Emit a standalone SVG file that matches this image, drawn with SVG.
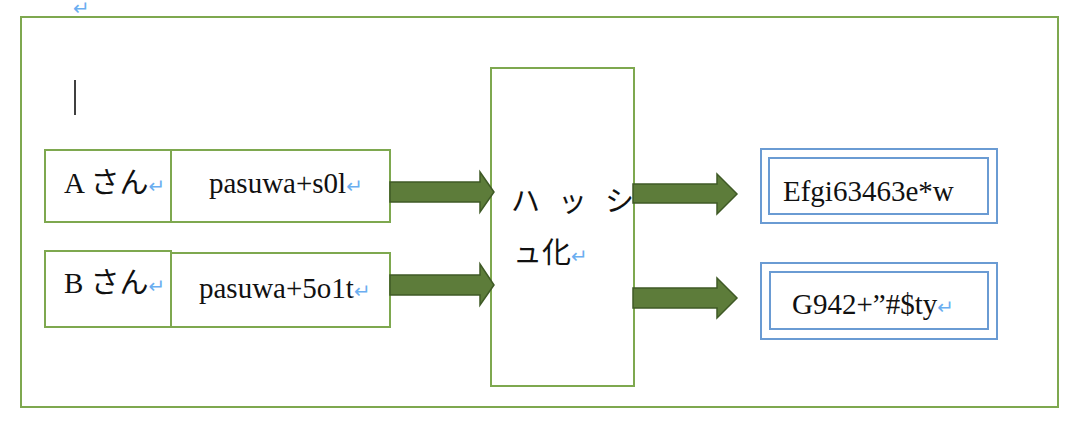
<svg xmlns="http://www.w3.org/2000/svg" width="1080" height="426" viewBox="0 0 1080 426">
<style>
.g{fill:#fff;stroke:#7ea84f;stroke-width:2}
.b{fill:#fff;stroke:#6a9bd3;stroke-width:2}
.t{font-family:"Liberation Serif","Times New Roman","DejaVu Serif","Noto Sans CJK JP",serif;font-size:29px;fill:#111}
.r{fill:#6aaef0;font-family:"DejaVu Sans",sans-serif;font-size:20px}
.a{fill:#5d7c3a;stroke:#3f5a26;stroke-width:1.5}
</style>
<rect width="1080" height="426" fill="#fff"/>
<text x="73" y="15" class="r" font-size="15">↵</text>
<rect x="21" y="17" width="1037" height="390" fill="none" stroke="#7ea84f" stroke-width="2"/>
<line x1="75" y1="80" x2="75" y2="115" stroke="#000" stroke-width="1.5"/>
<g id="nodeA"><rect x="45" y="150" width="126" height="72" class="g"/><text x="64" y="193" class="t">A さん<tspan class="r">↵</tspan></text></g>
<g id="pwA"><rect x="171" y="150" width="219" height="72" class="g"/><text x="209" y="193" class="t">pasuwa+s0l<tspan class="r">↵</tspan></text></g>
<g id="nodeB"><rect x="45" y="251" width="126" height="76" class="g"/><text x="64" y="293" class="t">B さん<tspan class="r">↵</tspan></text></g>
<g id="pwB"><rect x="171" y="253" width="219" height="74" class="g"/><text x="199" y="298" class="t">pasuwa+5o1t<tspan class="r">↵</tspan></text></g>
<g id="hash"><rect x="491" y="68" width="143" height="318" class="g"/>
<text x="511" y="212" class="t" font-size="24" letter-spacing="18">ハッシ</text>
<text x="513" y="263" class="t" font-size="24">ュ化<tspan class="r">↵</tspan></text></g>
<g id="out1"><rect x="761" y="149" width="236" height="74" class="b"/><rect x="769" y="158" width="219" height="56" class="b"/><text x="783" y="201" class="t">Efgi63463e*w</text></g>
<g id="out2"><rect x="761" y="263" width="236" height="76" class="b"/><rect x="770" y="272" width="218" height="57" class="b"/><text x="792" y="314" class="t">G942+”#$ty<tspan class="r">↵</tspan></text></g>
<g id="connectors">
<path class="a" d="M390 182H480V172L494 192L480 212V202H390Z"/>
<path class="a" d="M390 275H480V264L494 285L480 305V295H390Z"/>
<path class="a" d="M633 184H717V174L737 194L717 214V203H633Z"/>
<path class="a" d="M633 288H717V278L737 298L717 318V308H633Z"/>
</g>
</svg>
